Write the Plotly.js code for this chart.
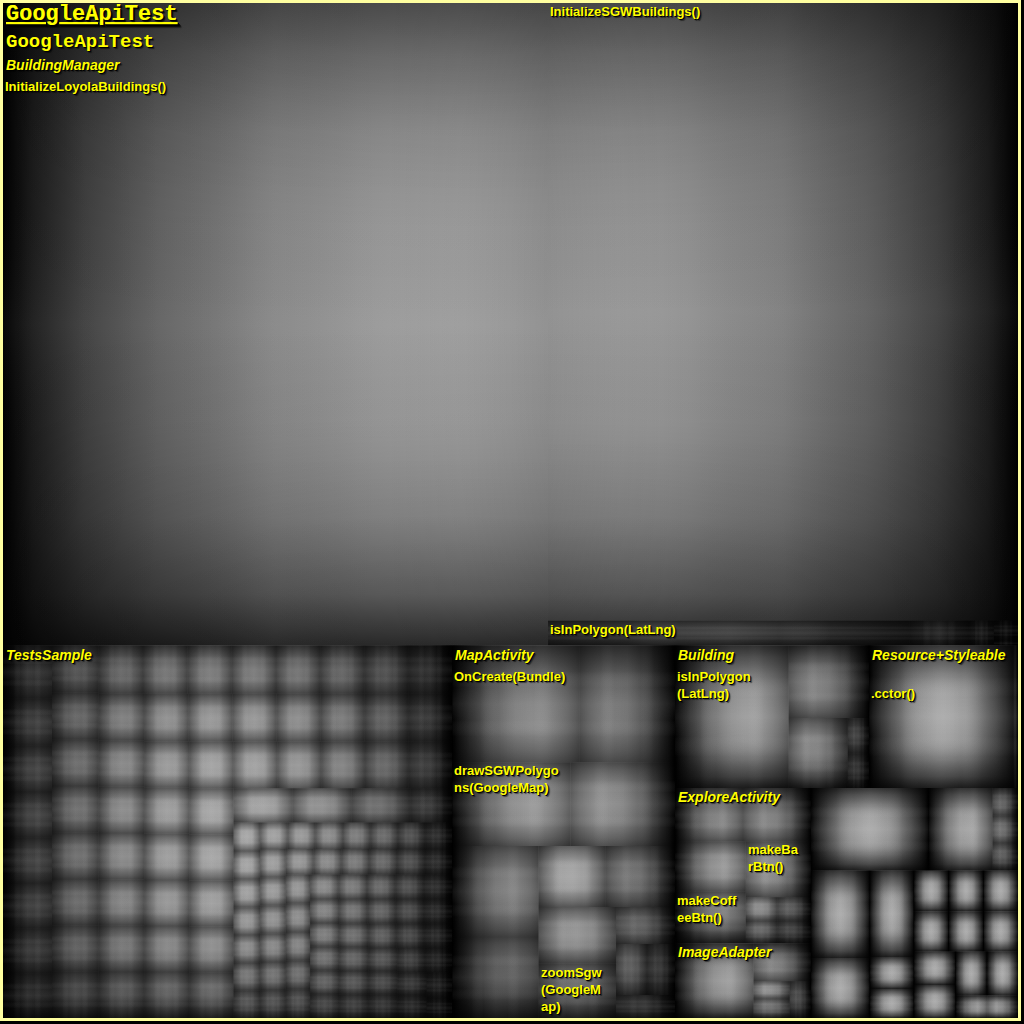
<!DOCTYPE html>
<html>
<head>
<meta charset="utf-8">
<script src="https://cdn.plot.ly/plotly-3.0.1.min.js"></script>
<style>
html,body{margin:0;padding:0;background:#000;}
#chart{width:1024px;height:1024px;}
</style>
</head>
<body>
<div id="chart"></div>
<script>
// ---------------- DATA (sizes) ----------------
const rootName = 'GoogleApiTest';
const namespaceName = 'GoogleApiTest';

const buildingManagerValues = [34989, 28999, 900, 148, 62, 48, 12];
const buildingManagerLabels = ['InitializeLoyolaBuildings()', 'InitializeSGWBuildings()', 'isInPolygon(LatLng)', '', '', '', ''];

const testsSampleValues = [
  258, 232, 226, 224, 222, 221, 220, 219, 218, 218,
  217, 217, 216, 216, 215, 215, 214, 214, 214, 213,
  213, 213, 212, 212, 212, 212, 211, 211, 211, 211,
  210, 210, 210, 210, 210, 209, 209, 209, 208, 208,
  208, 207, 207, 207, 206, 206, 206, 205, 205, 205,
  204, 204, 203, 203, 202, 202, 201, 200, 143,
  76, 75, 75, 74, 74, 74, 73, 73, 73, 73,
  73, 73, 72, 72, 72, 72, 72, 72, 72, 71,
  71, 71, 71, 71, 71, 70, 70, 70, 70, 70,
  70, 70, 70, 70, 70, 70, 69, 69, 69, 69,
  69, 69, 69, 69, 69, 69, 69, 69, 68, 68,
  68, 68, 68, 68, 68, 67, 67, 67, 66, 66, 52
];

const mapActivityValues = [1485, 1109, 990, 874, 783, 697, 409, 421, 439, 421, 218, 158, 143, 136];
const mapActivityLabels = ['OnCreate(Bundle)', '', 'drawSGWPolygo<br>ns(GoogleMap)', '', '', '', '', '', '', 'zoomSgw<br>(GoogleM<br>ap)', '', '', '', ''];

const buildingValues = [1616, 584, 413, 76, 74];
const buildingLabels = ['isInPolygon<br>(LatLng)', '', '', '', ''];

const resourceValues = [2045, 71];
const resourceLabels = ['.cctor()', ''];

const exploreValues = [362, 362, 357, 364, 364, 74, 71, 79, 76];
const exploreLabels = ['', '', '', 'makeCoff<br>eeBtn()', 'makeBa<br>rBtn()', '', '', '', ''];

const imageAdapterValues = [585, 217, 63, 70, 78];

// small unlabeled classes (bottom-right corner)
const smallClassValues = [[970], [530, 70, 70, 70], [513], [353], [380], [140], [128],
  [142], [141], [141], [140], [140], [139], [139], [138], [138], [137], [70, 68]];

const classNames = ['BuildingManager', 'TestsSample', 'MapActivity', 'Building', 'Resource+Styleable<br> ', 'ExploreActivity', 'ImageAdapter'];

// ---------------- STYLE ----------------
const YEL = '#ffff00';
const SHADOW = '1px 1px 0px #000000, 2px 2px 1px rgba(0,0,0,0.5)';
const H_SCALE = [[0,'#000000'],[0.03,'#202020'],[0.08,'#424242'],[0.15,'#626262'],[0.25,'#818181'],[0.35,'#979797'],[0.45,'#a2a2a2'],[0.5,'#a4a4a4'],
                 [0.55,'#a2a2a2'],[0.65,'#979797'],[0.75,'#818181'],[0.85,'#626262'],[0.92,'#424242'],[0.97,'#202020'],[1,'#000000']];
const V_SCALE = [[0,'rgba(0,0,0,0.45)'],[0.08,'rgba(0,0,0,0.27)'],[0.2,'rgba(0,0,0,0.1)'],[0.35,'rgba(0,0,0,0.02)'],[0.5,'rgba(0,0,0,0)'],
                 [0.65,'rgba(0,0,0,0.03)'],[0.8,'rgba(0,0,0,0.15)'],[0.92,'rgba(0,0,0,0.38)'],[1,'rgba(0,0,0,0.7)']];
const LEAF_PROFILE = [[0,'rgba(0,0,0,0.45)'],[0.09,'rgba(0,0,0,0.3)'],[0.22,'rgba(0,0,0,0.12)'],[0.36,'rgba(255,255,255,0.01)'],[0.5,'rgba(255,255,255,0.06)'],
                      [0.64,'rgba(255,255,255,0.01)'],[0.78,'rgba(0,0,0,0.12)'],[0.91,'rgba(0,0,0,0.3)'],[1,'rgba(0,0,0,0.45)']];
const LEAF_SOFT = [[0,'rgba(0,0,0,0.12)'],[0.15,'rgba(0,0,0,0.04)'],[0.3,'rgba(0,0,0,0)'],[0.5,'rgba(255,255,255,0.03)'],
                   [0.7,'rgba(0,0,0,0)'],[0.85,'rgba(0,0,0,0.04)'],[1,'rgba(0,0,0,0.12)']];

// ---------------- LAYOUT (squarified treemap) ----------------
function worst(row, side) {
  let s = 0, mx = -Infinity, mn = Infinity;
  for (const r of row) { s += r; mx = Math.max(mx, r); mn = Math.min(mn, r); }
  const s2 = side * side, ss = s * s;
  return Math.max(s2 * mx / ss, ss / (s2 * mn));
}
function squarify(vals, rect) {
  const total = vals.reduce((a, b) => a + b, 0);
  const k = rect.w * rect.h / total;
  const areas = vals.map(v => v * k);
  const out = new Array(vals.length);
  const r = {x: rect.x, y: rect.y, w: rect.w, h: rect.h};
  let i = 0;
  while (i < areas.length) {
    const horiz = r.w <= r.h + 1e-9;
    const side = horiz ? r.w : r.h;
    let row = [areas[i]], j = i + 1, w0 = worst(row, side);
    while (j < areas.length) {
      const cand = row.concat([areas[j]]);
      const w1 = worst(cand, side);
      if (w1 <= w0) { row = cand; w0 = w1; j++; } else break;
    }
    const sum = row.reduce((a, b) => a + b, 0);
    const t = sum / side;
    let p = horiz ? r.x : r.y;
    for (let q = 0; q < row.length; q++) {
      const len = row[q] / t;
      out[i + q] = horiz ? {x: p, y: r.y, w: len, h: t} : {x: r.x, y: p, w: t, h: len};
      p += len;
    }
    if (horiz) { r.y += t; r.h -= t; } else { r.x += t; r.w -= t; }
    i = j;
  }
  return out;
}

const classes = [
  {name: classNames[0], values: buildingManagerValues, labels: buildingManagerLabels},
  {name: classNames[1], values: testsSampleValues, labels: testsSampleValues.map(() => '')},
  {name: classNames[2], values: mapActivityValues, labels: mapActivityLabels},
  {name: classNames[3], values: buildingValues, labels: buildingLabels},
  {name: classNames[4], values: resourceValues, labels: resourceLabels},
  {name: classNames[5], values: exploreValues, labels: exploreLabels},
  {name: classNames[6], values: imageAdapterValues, labels: imageAdapterValues.map(() => '')}
];
smallClassValues.forEach(v => classes.push({name: '', values: v, labels: v.map(() => '')}));

const rootRect = {x: 3, y: 3, w: 1015, h: 1015};
const classTotals = classes.map(c => c.values.reduce((a, b) => a + b, 0));
const classRects = squarify(classTotals, rootRect);

const traces = [];
function rectTrace(r, grad) {
  return {type: 'scatter', mode: 'none', fill: 'toself',
    x: [r.x, r.x + r.w, r.x + r.w, r.x], y: [r.y, r.y, r.y + r.h, r.y + r.h],
    fillgradient: grad, hoverinfo: 'skip', showlegend: false};
}

const labelItems = [];
const rootLabel = {rect: rootRect, level: 0, text: rootName, anc: []};
const nsLabel = {rect: rootRect, level: 1, text: namespaceName, anc: [rootLabel]};
labelItems.push(rootLabel, nsLabel);

classes.forEach((c, ci) => {
  const cr = classRects[ci];
  traces.push(rectTrace(cr, {type: 'horizontal', start: cr.x, stop: cr.x + cr.w, colorscale: H_SCALE}));
  traces.push(rectTrace(cr, {type: 'vertical', start: cr.y, stop: cr.y + cr.h, colorscale: V_SCALE}));
  const cl = {rect: cr, level: 2, text: c.name, anc: [rootLabel, nsLabel]};
  if (c.name) labelItems.push(cl);
  const leafRects = squarify(c.values, cr);
  leafRects.forEach((lr, li) => {
    const sc = lr.w * lr.h > 100000 ? LEAF_SOFT : LEAF_PROFILE;
    traces.push(rectTrace(lr, {type: 'horizontal', start: lr.x, stop: lr.x + lr.w, colorscale: sc}));
    traces.push(rectTrace(lr, {type: 'vertical', start: lr.y, stop: lr.y + lr.h, colorscale: sc}));
    if (c.labels[li]) labelItems.push({rect: lr, level: 3, text: c.labels[li], anc: [rootLabel, nsLabel, cl]});
  });
});

function slot(l) {
  const lines = l.text.split('<br>').length;
  if (l.level === 0) return 27;
  if (l.level === 1) return 26;
  return 22 + 17 * (lines - 1);
}
const fonts = [
  {family: 'Liberation Mono, Courier New, monospace', size: 22, color: YEL, weight: 'bold', lineposition: 'under', shadow: SHADOW},
  {family: 'Liberation Mono, Courier New, monospace', size: 19, color: YEL, weight: 'bold', shadow: SHADOW},
  {family: 'Liberation Sans, Arial, sans-serif', size: 14, color: YEL, weight: 'bold', style: 'italic', shadow: SHADOW},
  {family: 'Liberation Sans, Arial, sans-serif', size: 13, color: YEL, weight: 'bold', shadow: SHADOW}
];
const dxs = [2, 2, 1.5, 1];

const annotations = labelItems.map(l => {
  let off = 0;
  l.anc.forEach(a => {
    if (Math.abs(a.rect.x - l.rect.x) < 0.5 && Math.abs(a.rect.y - l.rect.y) < 0.5) off += slot(a);
  });
  const top = l.rect.y + off + (l.level === 0 ? -2 : 0);
  return {x: l.rect.x + dxs[l.level], y: top, xref: 'x', yref: 'y', xanchor: 'left', yanchor: 'top',
    showarrow: false, align: 'left', text: l.text, font: fonts[l.level], borderpad: 0};
});

const layout = {
  width: 1024, height: 1024,
  margin: {l: 0, r: 0, t: 0, b: 0, pad: 0},
  paper_bgcolor: '#000000', plot_bgcolor: '#000000',
  showlegend: false,
  xaxis: {range: [0, 1024], visible: false, fixedrange: true},
  yaxis: {range: [1024, 0], visible: false, fixedrange: true},
  annotations: annotations,
  shapes: [{type: 'rect', xref: 'x', yref: 'y', x0: 1.5, x1: 1019.5, y0: 1.5, y1: 1019.5,
    line: {color: '#ffffa0', width: 3}, fillcolor: 'rgba(0,0,0,0)', layer: 'above'}]
};

Plotly.newPlot('chart', traces, layout, {staticPlot: true, displayModeBar: false});
</script>
</body>
</html>
